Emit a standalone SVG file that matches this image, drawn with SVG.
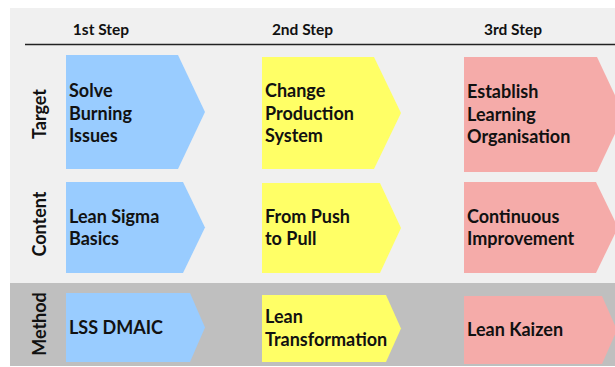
<svg xmlns="http://www.w3.org/2000/svg" width="615" height="367" viewBox="0 0 615 367">
<style>
.t{font-family:Lato,"Open Sans","DejaVu Sans",sans-serif;font-weight:bold;font-size:18px;fill:#111}
.h{font-family:Lato,"Open Sans","DejaVu Sans",sans-serif;font-weight:bold;font-size:15.5px;fill:#111;text-anchor:middle}
.r{font-family:Lato,"Open Sans","DejaVu Sans",sans-serif;font-weight:bold;font-size:18px;fill:#111;text-anchor:middle}
.b{fill:#99ccff}
.y{fill:#ffff66}
.p{fill:#f5aba9}
</style>
<rect x="0" y="0" width="615" height="367" fill="#ffffff"/>
<rect x="10" y="8" width="605" height="275" fill="#f0f0f0"/>
<rect x="10" y="283" width="605" height="83" fill="#bfbfbf"/>
<g id="header">
<line x1="25" y1="44.5" x2="615" y2="44.5" stroke="#222" stroke-width="1.6"/>
<text class="h" x="101" y="35">1st Step</text>
<text class="h" x="302.5" y="35">2nd Step</text>
<text class="h" x="513" y="35">3rd Step</text>
</g>
<g id="rowlabels">
<text class="r" transform="translate(46,114) rotate(-90)">Target</text>
<text class="r" transform="translate(46,224) rotate(-90)">Content</text>
<text class="r" transform="translate(46,324) rotate(-90)">Method</text>
</g>
<g id="connectors"></g>
<g id="n-target-1">
<polygon class="b" points="66,55 178,55 205,112 178,169 66,169"/>
<text class="t" x="69" y="97">Solve</text>
<text class="t" x="69" y="119.5">Burning</text>
<text class="t" x="69" y="142">Issues</text>
</g>
<g id="n-target-2">
<polygon class="y" points="262,57 374,57 401,113 374,169 262,169"/>
<text class="t" x="265" y="97">Change</text>
<text class="t" x="265" y="119.5">Production</text>
<text class="t" x="265" y="142">System</text>
</g>
<g id="n-target-3">
<polygon class="p" points="464,57 597,57 624,114.5 597,172 464,172"/>
<text class="t" x="467" y="98">Establish</text>
<text class="t" x="467" y="120.5">Learning</text>
<text class="t" x="467" y="143">Organisation</text>
</g>
<g id="n-content-1">
<polygon class="b" points="66,182 183,182 205,227.5 183,273 66,273"/>
<text class="t" x="69" y="222.5">Lean Sigma</text>
<text class="t" x="69" y="244.5">Basics</text>
</g>
<g id="n-content-2">
<polygon class="y" points="262,183 380,183 401,228 380,273 262,273"/>
<text class="t" x="265" y="222.5">From Push</text>
<text class="t" x="265" y="244.5">to Pull</text>
</g>
<g id="n-content-3">
<polygon class="p" points="464,182 596,182 618,227.5 596,273 464,273"/>
<text class="t" x="467" y="223">Continuous</text>
<text class="t" x="467" y="245">Improvement</text>
</g>
<g id="n-method-1">
<polygon class="b" points="66,293 190,293 205,327.5 190,362 66,362"/>
<text class="t" x="69" y="333.5">LSS DMAIC</text>
</g>
<g id="n-method-2">
<polygon class="y" points="262,295 386,295 401,328.5 386,362 262,362"/>
<text class="t" x="265" y="323">Lean</text>
<text class="t" x="265" y="346">Transformation</text>
</g>
<g id="n-method-3">
<polygon class="p" points="464,296 602,296 617,330 602,364 464,364"/>
<text class="t" x="467" y="336">Lean Kaizen</text>
</g>
</svg>
